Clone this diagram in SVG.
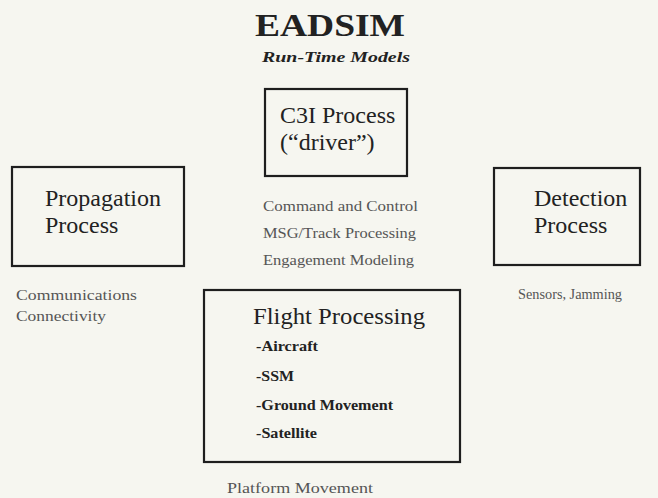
<svg xmlns="http://www.w3.org/2000/svg" width="658" height="498" viewBox="0 0 658 498">
<style>
.bg{fill:#f6f6f0}
.box{fill:#f6f6f0;stroke:#1e1e1e;stroke-width:2.2}
.t{font-family:"Liberation Serif","Times New Roman",serif;fill:#222}
.big{font-size:24px}
.sm{font-size:14px;fill:#555}
.b{font-size:14px;font-weight:bold;fill:#222}
</style>
<rect class="bg" x="0" y="0" width="658" height="498"/>
<g id="title">
<text class="t" x="255" y="36" font-size="32" font-weight="bold" textLength="150" lengthAdjust="spacingAndGlyphs">EADSIM</text>
<text class="t" x="262" y="62" font-size="15" font-weight="bold" font-style="italic" textLength="148" lengthAdjust="spacingAndGlyphs">Run-Time Models</text>
</g>
<g id="connectors"></g>
<g id="c3i">
<rect class="box" x="265" y="89" width="142" height="87"/>
<text class="t big" x="280" y="123">C3I Process</text>
<text class="t big" x="280" y="150">(“driver”)</text>
<text class="t sm" x="263" y="211" textLength="155" lengthAdjust="spacingAndGlyphs">Command and Control</text>
<text class="t sm" x="263" y="238" textLength="153" lengthAdjust="spacingAndGlyphs">MSG/Track Processing</text>
<text class="t sm" x="263" y="265" textLength="151" lengthAdjust="spacingAndGlyphs">Engagement Modeling</text>
</g>
<g id="propagation">
<rect class="box" x="12" y="167" width="172" height="99"/>
<text class="t big" x="45" y="206">Propagation</text>
<text class="t big" x="45" y="233">Process</text>
<text class="t sm" x="16" y="300" textLength="121" lengthAdjust="spacingAndGlyphs">Communications</text>
<text class="t sm" x="16" y="321" textLength="90" lengthAdjust="spacingAndGlyphs">Connectivity</text>
</g>
<g id="detection">
<rect class="box" x="494" y="168" width="146" height="97"/>
<text class="t big" x="534" y="206">Detection</text>
<text class="t big" x="534" y="233">Process</text>
<text class="t sm" x="518" y="299" textLength="104" lengthAdjust="spacingAndGlyphs">Sensors, Jamming</text>
</g>
<g id="flight">
<rect class="box" x="204" y="290" width="256" height="172"/>
<text class="t big" x="253" y="324" textLength="172" lengthAdjust="spacingAndGlyphs">Flight Processing</text>
<text class="t b" x="256" y="351" textLength="62" lengthAdjust="spacingAndGlyphs">-Aircraft</text>
<text class="t b" x="256" y="381" textLength="38" lengthAdjust="spacingAndGlyphs">-SSM</text>
<text class="t b" x="256" y="410" textLength="137" lengthAdjust="spacingAndGlyphs">-Ground Movement</text>
<text class="t b" x="256" y="438" textLength="61" lengthAdjust="spacingAndGlyphs">-Satellite</text>
<text class="t sm" x="227" y="493" textLength="146" lengthAdjust="spacingAndGlyphs">Platform Movement</text>
</g>
</svg>
